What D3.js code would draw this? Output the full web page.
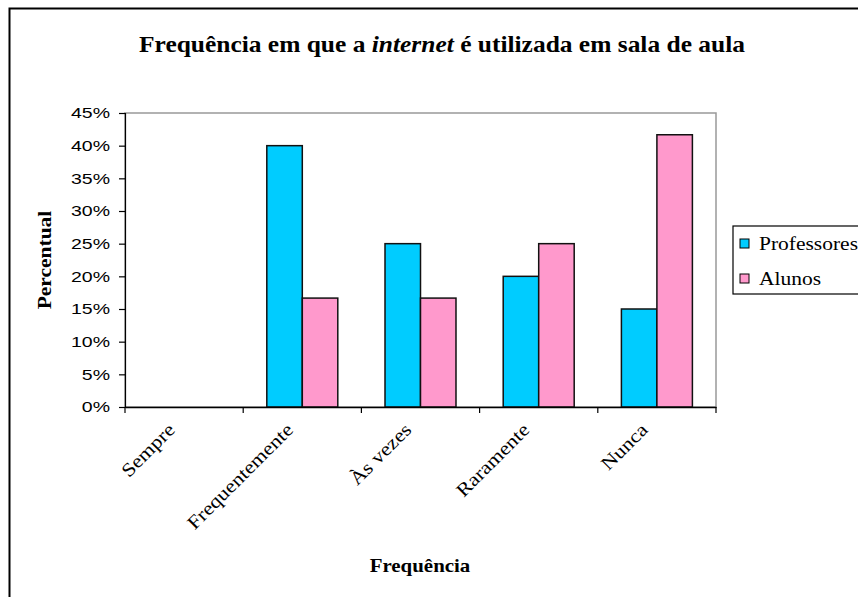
<!DOCTYPE html>
<html>
<head>
<meta charset="utf-8">
<script src="https://cdn.jsdelivr.net/npm/d3@7"></script>
<style>
  html, body { margin: 0; padding: 0; background: #fff; }
  svg { display: block; }
</style>
</head>
<body>
<svg id="chart" width="858" height="597"></svg>
<script>
const categories = ["Sempre", "Frequentemente", "Às vezes", "Raramente", "Nunca"];
const seriesNames = ["Professores", "Alunos"];
const professores = [0, 40, 25, 20, 15];
const alunos = [0, 16.67, 16.67, 25, 41.67];
const yTicks = [0, 5, 10, 15, 20, 25, 30, 35, 40, 45];
const colors = ["#00CCFF", "#FF99CC"];

const svg = d3.select("#chart");
const serif = "'Liberation Serif', 'Times New Roman', serif";
const sans = "'Liberation Sans', Arial, sans-serif";

function stretch(sel, k) {
  sel.each(function () {
    const w = this.getComputedTextLength();
    d3.select(this).attr("textLength", w * k).attr("lengthAdjust", "spacingAndGlyphs");
  });
}

// outer frame
svg.append("rect").attr("x", 9.5).attr("y", 8.5).attr("width", 870).attr("height", 620)
  .attr("fill", "#fff").attr("stroke", "#000").attr("stroke-width", 2);

const plot = { left: 125, right: 716, top: 113, bottom: 407 };

const x = d3.scaleBand().domain(categories).range([plot.left, plot.right]).paddingInner(0).paddingOuter(0);
const xs = d3.scaleBand().domain(seriesNames).range([0, x.bandwidth()]).paddingInner(0).paddingOuter(0.665);
const y = d3.scaleLinear().domain([0, 45]).range([plot.bottom, plot.top]);

// plot area border
svg.append("rect").attr("x", plot.left).attr("y", plot.top)
  .attr("width", plot.right - plot.left).attr("height", plot.bottom - plot.top)
  .attr("fill", "none").attr("stroke", "#999").attr("stroke-width", 1.5);

// title
const title = svg.append("text").attr("x", 442).attr("y", 52).attr("text-anchor", "middle")
  .attr("font-family", serif).attr("font-weight", "bold").attr("font-size", 24).attr("fill", "#000");
title.append("tspan").text("Frequência em que a ");
title.append("tspan").attr("font-style", "italic").text("internet");
title.append("tspan").text("  é utilizada em sala de aula");
title.attr("textLength", 606).attr("lengthAdjust", "spacingAndGlyphs");

// bars
const data = categories.map((c, i) => ({ cat: c, vals: [professores[i], alunos[i]] }));
const groups = svg.append("g").selectAll("g").data(data).join("g")
  .attr("transform", d => `translate(${x(d.cat)},0)`);
groups.selectAll("rect").data(d => d.vals.map((v, j) => ({ name: seriesNames[j], v, j })))
  .join("rect")
  .filter(d => d.v > 0)
  .attr("x", d => xs(d.name))
  .attr("y", d => y(d.v))
  .attr("width", xs.bandwidth())
  .attr("height", d => y(0) - y(d.v))
  .attr("fill", d => colors[d.j])
  .attr("stroke", "#111").attr("stroke-width", 1.5);

// y axis
const yAxis = d3.axisLeft(y).tickValues(yTicks).tickFormat(d => d + "%").tickSize(6).tickPadding(9);
const gy = svg.append("g").attr("transform", `translate(${plot.left},0)`).call(yAxis);
gy.select(".domain").attr("stroke", "#000").attr("stroke-width", 1.2);
gy.selectAll(".tick line").attr("stroke", "#000").attr("stroke-width", 1.2);
gy.selectAll(".tick text").attr("font-family", sans).attr("font-size", 15).attr("fill", "#000");
stretch(gy.selectAll(".tick text"), 1.3);

// x axis
const xAxis = d3.axisBottom(x).tickValues([]).tickSizeOuter(0);
const gx = svg.append("g").attr("transform", `translate(0,${plot.bottom})`).call(xAxis);
gx.select(".domain").attr("stroke", "#000").attr("stroke-width", 1.5);
const boundaries = [plot.left].concat(categories.map(c => x(c) + x.bandwidth()));
gx.selectAll(".bt").data(boundaries).join("line").attr("class", "bt")
  .attr("x1", d => d).attr("x2", d => d).attr("y1", 0).attr("y2", 6)
  .attr("stroke", "#000").attr("stroke-width", 1.2);

const xl = svg.append("g").selectAll("text").data(categories).join("text")
  .attr("transform", d => `translate(${x(d) + x.bandwidth() / 2 - 8},${plot.bottom + 24}) rotate(-45)`)
  .attr("text-anchor", "end")
  .attr("font-family", serif).attr("font-size", 19).attr("fill", "#000")
  .text(d => d);
stretch(xl, 1.15);

// axis titles
const xt = svg.append("text").attr("x", 420).attr("y", 572).attr("text-anchor", "middle")
  .attr("font-family", serif).attr("font-weight", "bold").attr("font-size", 19).text("Frequência");
stretch(xt, 1.1);
const yt = svg.append("text").attr("transform", "translate(51,260) rotate(-90)").attr("text-anchor", "middle")
  .attr("font-family", serif).attr("font-weight", "bold").attr("font-size", 19).text("Percentual");
stretch(yt, 1.13);

// legend
const lg = svg.append("g").attr("transform", "translate(733,226)");
lg.append("rect").attr("x", 0).attr("y", 0).attr("width", 140).attr("height", 68)
  .attr("fill", "#fff").attr("stroke", "#000").attr("stroke-width", 1.2);
const li = lg.selectAll("g").data(seriesNames).join("g")
  .attr("transform", (d, i) => `translate(0,${17 + i * 35})`);
li.append("rect").attr("x", 7).attr("y", -4).attr("width", 9).attr("height", 9)
  .attr("fill", (d, i) => colors[i]).attr("stroke", "#000").attr("stroke-width", 1);
const lt = li.append("text").attr("x", 26).attr("y", 7).attr("font-family", serif).attr("font-size", 19)
  .attr("fill", "#000").text(d => d);
stretch(lt, 1.13);
</script>
</body>
</html>
